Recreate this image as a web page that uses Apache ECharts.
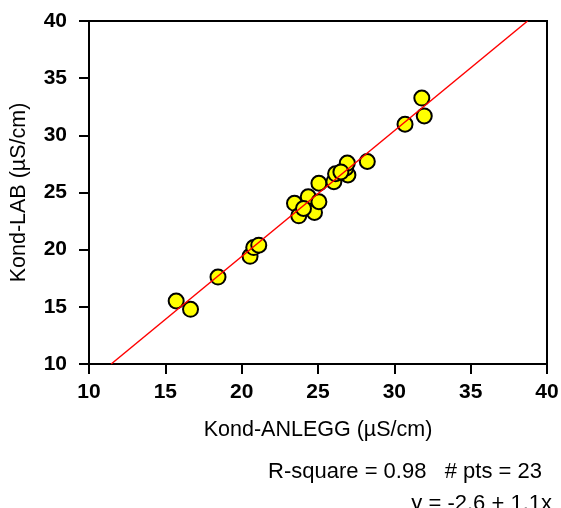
<!DOCTYPE html>
<html>
<head>
<meta charset="utf-8">
<script src="https://cdn.jsdelivr.net/npm/echarts@6/dist/echarts.min.js"></script>
<style>
html,body{margin:0;padding:0;background:#fff;}
#chart{width:561px;height:508px;}
</style>
</head>
<body>
<div id="chart"></div>
<script>
// Data
const anlegg = [15.71, 16.65, 18.45, 20.55, 20.79, 21.12, 23.46, 23.74, 24.36, 24.77, 25.06, 25.06, 26.04, 26.15, 26.96, 26.81, 26.92, 28.23, 30.70, 31.80, 31.96, 24.05, 26.50];
const lab    = [15.51, 14.78, 17.60, 19.42, 20.18, 20.39, 24.05, 22.96, 24.63, 23.26, 24.19, 25.81, 25.95, 26.63, 26.54, 27.13, 27.57, 27.71, 30.97, 33.26, 31.70, 23.60, 26.80];
const axisTicks = [10, 15, 20, 25, 30, 35, 40];
const fitIntercept = -2.6;
const fitSlope = 1.1;
const statsLine1 = 'R-square = 0.98   # pts = 23';
const statsLine2 = 'y = -2.6 + 1.1x';

const points = anlegg.map((x, i) => [x, lab[i]]);
const yMin = axisTicks[0], yMax = axisTicks[axisTicks.length - 1];
const fitLine = [
  [(yMin - fitIntercept) / fitSlope, yMin],
  [(yMax - fitIntercept) / fitSlope, yMax]
];

const chart = echarts.init(document.getElementById('chart'));
const tickLabel = {color: '#000', fontFamily: 'Liberation Sans, Arial, sans-serif', fontWeight: 'bold', fontSize: 21};
const axisName = {color: '#000', fontFamily: 'Liberation Sans, Arial, sans-serif', fontSize: 21.5};
chart.setOption({
  animation: false,
  backgroundColor: '#fff',
  grid: {left: 89, right: 14, top: 21, bottom: 144, outerBoundsMode: 'none', containLabel: false, show: true, borderColor: '#000', borderWidth: 2, backgroundColor: 'transparent'},
  xAxis: {
    type: 'value', min: yMin, max: yMax, interval: 5,
    name: 'Kond-ANLEGG (µS/cm)', nameLocation: 'middle', nameGap: 55, nameMoveOverlap: false, nameTextStyle: axisName,
    axisLine: {show: true, onZero: false, lineStyle: {color: '#000', width: 2}},
    axisTick: {show: true, inside: false, length: 10, lineStyle: {color: '#000', width: 2}},
    axisLabel: Object.assign({margin: 18}, tickLabel),
    splitLine: {show: false}
  },
  yAxis: {
    type: 'value', min: yMin, max: yMax, interval: 5,
    name: 'Kond-LAB (µS/cm)', nameLocation: 'middle', nameGap: 59, nameMoveOverlap: false, nameTextStyle: axisName,
    axisLine: {show: true, onZero: false, lineStyle: {color: '#000', width: 2}},
    axisTick: {show: true, inside: false, length: 10, lineStyle: {color: '#000', width: 2}},
    axisLabel: Object.assign({margin: 22}, tickLabel),
    splitLine: {show: false}
  },
  series: [
    {
      type: 'scatter', data: points, symbol: 'circle', symbolSize: 15, z: 2,
      itemStyle: {color: '#ffff00', borderColor: '#000', borderWidth: 2, opacity: 1}
    },
    {
      type: 'line', data: fitLine, symbol: 'none', z: 3,
      lineStyle: {color: '#ff0000', width: 1.5}
    }
  ],
  graphic: [
    {type: 'text', right: 19, top: 461, style: {text: statsLine1, fill: '#000', font: '22px "Liberation Sans", Arial, sans-serif', textAlign: 'right'}},
    {type: 'text', right: 9, top: 493, style: {text: statsLine2, fill: '#000', font: '22px "Liberation Sans", Arial, sans-serif', textAlign: 'right'}}
  ]
});
</script>
</body>
</html>
